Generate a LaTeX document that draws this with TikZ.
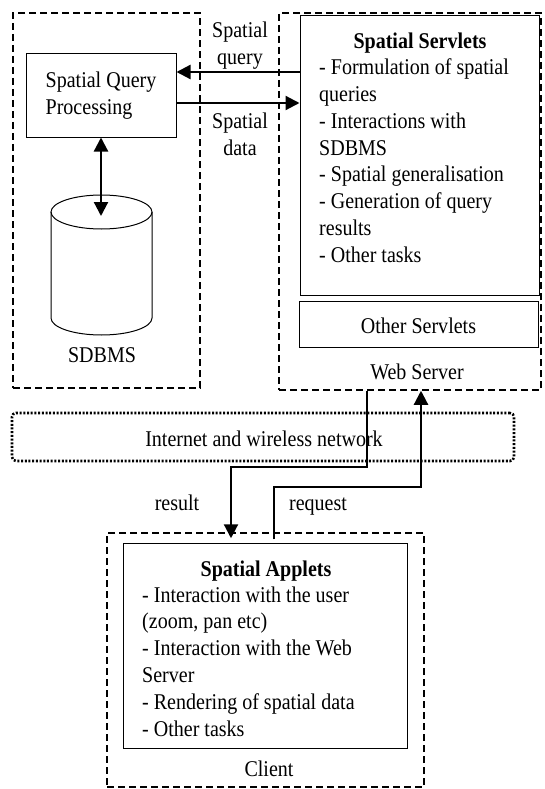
\documentclass[tikz,border=0pt]{standalone}
\usepackage{fontspec}
\setmainfont{Liberation Serif}[FakeStretch=0.89]
\usetikzlibrary{arrows.meta}
\usetikzlibrary{positioning}
\usetikzlibrary{calc}
\tikzstyle{zone} = [draw, line width=1.5pt, dash pattern=on 7pt off 4pt]
\tikzstyle{netzone} = [draw, line width=2.6pt, dash pattern=on 2pt off 1.7pt, rounded corners=4pt]
\tikzstyle{box} = [draw, line width=1pt]
\tikzstyle{txt} = [font=\fontsize{22.5}{26.8}\selectfont, inner sep=0pt]
\tikzstyle{head} = [font=\fontsize{22.5}{26.8}\selectfont\bfseries, inner sep=0pt]
\tikzstyle{arrow} = [line width=2.2pt, -{Triangle[length=14pt,width=14pt]}]
\tikzstyle{dualarrow} = [line width=2.2pt, {Triangle[length=14pt,width=14pt]}-{Triangle[length=14pt,width=14pt]}]

\begin{document}
\begin{tikzpicture}[x=1pt, y=-1pt]
	\useasboundingbox (0,0) rectangle (544,789);
	
	% Database side
	\node[zone, minimum width=187pt, minimum height=375pt] (dbzone) at (106.5,200.5) {};
	\node[box, txt, align=left, minimum width=150pt, minimum height=83pt] (sqp) at (101,95.5) {Spatial Query\\Processing};
	
	% Cylinder
	\draw[box] (51,212) -- (51,318) arc (180:0:50.5 and 17) -- (152,212);
	\draw[box] (101.5,212) ellipse (50.5 and 17);
	\coordinate (dbtop) at (101.5,216);
	\node[txt, anchor=base] (sdbms) at (102,362) {SDBMS};
	\draw[dualarrow] (sqp.south) -- (sqp.south |- dbtop);
	
	% Web server side
	\node[zone, minimum width=262pt, minimum height=377pt] (web) at (410,201.5) {};
	\node[box, minimum width=239pt, minimum height=279pt] (servlets) at (419.5,155.5) {};
	\node[head, anchor=base] (servtitle) at (420,48.3) {Spatial Servlets};
	\node[txt, align=left, anchor=north west] (servtasks) at (319,58.6) {- Formulation of spatial\\queries\\- Interactions with\\SDBMS\\- Spatial generalisation\\- Generation of query\\results\\- Other tasks};
	\node[box, minimum width=239pt, minimum height=46pt] (others) at (418.5,324) {};
	\node[txt, anchor=base] (otherslabel) at (418.5,333) {Other Servlets};
	\node[txt, anchor=base] (weblabel) at (417,379) {Web Server};
	
	% Query and data
	\coordinate (qy) at (0,72);
	\coordinate (dy) at (0,103);
	\draw[arrow] (servlets.west |- qy) -- (sqp.east |- qy);
	\draw[arrow] (sqp.east |- dy) -- (servlets.west |- dy);
	\node[txt, align=center, anchor=north] (qlabel) at (240,21.6) {Spatial\\query};
	\node[txt, align=center, anchor=north] (dlabel) at (240,112.6) {Spatial\\data};
	
	% Network
	\node[netzone, minimum width=502pt, minimum height=48pt] (net) at (263,437) {};
	\node[txt, anchor=base] (netlabel) at (264,446.7) {Internet and wireless network};
	
	% Client
	\node[zone, minimum width=317pt, minimum height=254pt] (client) at (265.5,660) {};
	\node[box, minimum width=284pt, minimum height=205pt] (applets) at (265,645.5) {};
	\node[head, anchor=base] (apptitle) at (266,576) {Spatial Applets};
	\node[txt, align=left, anchor=north west] (apptasks) at (142,586.3) {- Interaction with the user\\(zoom, pan etc)\\- Interaction with the Web\\Server\\- Rendering of spatial data\\- Other tasks};
	\node[txt, anchor=base] (clientlabel) at (269,776.7) {Client};
	
	% Result and request
	\coordinate (resx) at (367,0);
	\coordinate (resbend) at (231,467);
	\coordinate (reqx) at (274,0);
	\coordinate (reqbend) at (421,487);
	\draw[arrow] (web.south -| resx) |- (resbend) -- ($(client.north -| resbend)+(0,6)$);
	\draw[arrow] ($(client.north -| reqx)+(0,7)$) |- (reqbend) -- (web.south -| reqbend);
	\node[txt, anchor=base] (reslabel) at (177,510) {result};
	\node[txt, anchor=base] (reqlabel) at (318,510) {request};
	
\end{tikzpicture}
\end{document}
